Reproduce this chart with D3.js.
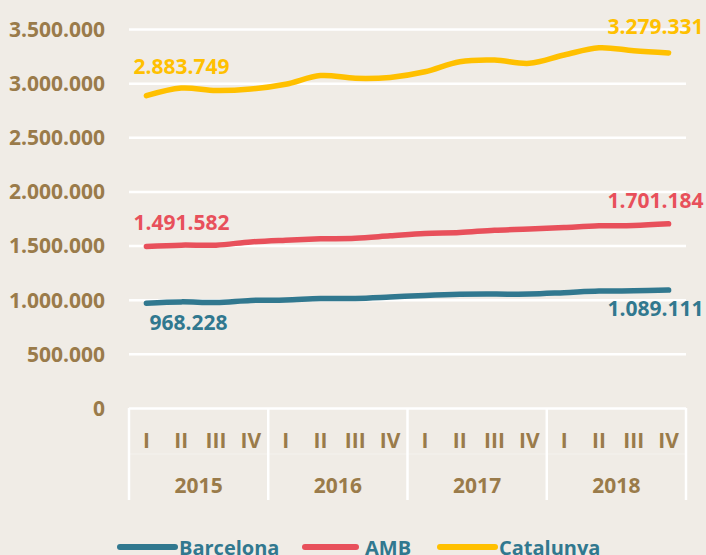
<!DOCTYPE html>
<html>
<head>
<meta charset="utf-8">
<script src="https://cdn.jsdelivr.net/npm/d3@7"></script>
<style>
  body { margin: 0; background: #F0ECE6; }
  svg { display: block; }
  text { font-family: "Open Sans", sans-serif; font-weight: bold; }
</style>
</head>
<body>
<svg id="chart" width="706" height="555"></svg>
<script>
// quarters and years on the x axis
var quarters = ["I", "II", "III", "IV"];
var years = ["2015", "2016", "2017", "2018"];

// population series, one value per quarter (2015 I ... 2018 IV)
var barcelona = [968228, 980000, 974000, 993000, 998000, 1011000, 1012000, 1025000,
                 1040000, 1050000, 1052000, 1052000, 1065000, 1080000, 1082000, 1089111];
var amb = [1491582, 1504000, 1504000, 1534000, 1550000, 1562000, 1568000, 1590000,
           1612000, 1621000, 1642000, 1652000, 1667000, 1682000, 1686000, 1701184];
var catalunya = [2883749, 2955000, 2932000, 2946000, 2990000, 3070000, 3045000, 3053000,
                 3105000, 3198000, 3213000, 3183000, 3260000, 3327000, 3300000, 3279331];

var yTicks = [0, 500000, 1000000, 1500000, 2000000, 2500000, 3000000, 3500000];

var seriesNames = ["Barcelona", "AMB", "Catalunya"];
var seriesColors = ["#31788F", "#E8505B", "#FFC000"];

var svg = d3.select("#chart");
var plotLeft = 129, plotRight = 686, plotTop = 29, plotBottom = 408;

var fmt = d3.formatLocale({decimal: ",", thousands: ".", grouping: [3], currency: ["", ""]}).format(",");

// one slot per quarter
var slots = [];
years.forEach(function(yr){ quarters.forEach(function(q){ slots.push(yr + "-" + q); }); });

var x = d3.scaleBand().domain(slots).range([plotLeft, plotRight]);
var xYear = d3.scaleBand().domain(years).range([plotLeft, plotRight]);
var y = d3.scaleLinear().domain([0, 3500000]).range([plotBottom, plotTop]);

var axisColor = "#9A7B4A";

// gridlines
svg.append("g")
    .attr("transform", "translate(" + plotLeft + ",0)")
    .call(d3.axisLeft(y).tickValues(yTicks).tickSize(-(plotRight - plotLeft)).tickFormat(""))
    .call(function(g){ g.select(".domain").remove(); })
    .selectAll("line").attr("stroke", "#fff").attr("stroke-width", 2.5);

// y labels
svg.append("g")
    .attr("transform", "translate(" + plotLeft + ",0)")
    .call(d3.axisLeft(y).tickValues(yTicks).tickSize(0).tickPadding(24).tickFormat(fmt))
    .call(function(g){ g.select(".domain").remove(); })
    .selectAll("text")
    .attr("fill", axisColor)
    .style("font-size", "21px")
    .attr("dy", "0.35em");

// x axis: separators between years
var sepX = years.map(function(yr){ return xYear(yr); }).concat([plotRight]);
svg.selectAll(".sep").data(sepX).enter().append("line")
    .attr("x1", function(d){ return d; }).attr("x2", function(d){ return d; })
    .attr("y1", plotBottom).attr("y2", 500)
    .attr("stroke", "#fff").attr("stroke-width", 2.5);

svg.append("line")
    .attr("x1", plotLeft).attr("x2", plotRight).attr("y1", 454).attr("y2", 454)
    .attr("stroke", "#fff").attr("stroke-opacity", 0.35).attr("stroke-width", 1);

svg.append("g").selectAll("text").data(slots).enter().append("text")
    .attr("x", function(d){ return x(d) + x.bandwidth() / 2; })
    .attr("y", 448)
    .attr("text-anchor", "middle")
    .attr("fill", axisColor)
    .style("font-size", "21px")
    .text(function(d){ return d.split("-")[1]; });

svg.append("g").selectAll("text").data(years).enter().append("text")
    .attr("x", function(d){ return xYear(d) + xYear.bandwidth() / 2; })
    .attr("y", 493)
    .attr("text-anchor", "middle")
    .attr("fill", axisColor)
    .style("font-size", "21px")
    .text(function(d){ return d; });

// lines
var line = d3.line()
    .x(function(d, i){ return x(slots[i]) + x.bandwidth() / 2; })
    .y(function(d){ return y(d); })
    .curve(d3.curveCatmullRom.alpha(0.5));

var allSeries = [barcelona, amb, catalunya];
allSeries.forEach(function(s, i){
    svg.append("path")
        .attr("d", line(s))
        .attr("fill", "none")
        .attr("stroke", seriesColors[i])
        .attr("stroke-width", 5.5)
        .attr("stroke-linecap", "round");
});

// first/last value labels
var labels = [
    {s: 2, i: 0, dx: -13, dy: -22, anchor: "start"},
    {s: 2, i: 15, dx: 35, dy: -19, anchor: "end"},
    {s: 1, i: 0, dx: -13, dy: -16, anchor: "start"},
    {s: 1, i: 15, dx: 35, dy: -16, anchor: "end"},
    {s: 0, i: 0, dx: 3, dy: 27, anchor: "start"},
    {s: 0, i: 15, dx: 35, dy: 26, anchor: "end"}
];
svg.append("g").selectAll("text").data(labels).enter().append("text")
    .attr("x", function(d){ return x(slots[d.i]) + x.bandwidth() / 2 + d.dx; })
    .attr("y", function(d){ return y(allSeries[d.s][d.i]) + d.dy; })
    .attr("text-anchor", function(d){ return d.anchor; })
    .attr("fill", function(d){ return seriesColors[d.s]; })
    .style("font-size", "21px")
    .text(function(d){ return fmt(allSeries[d.s][d.i]); });

// legend
var legendX = [120, 305, 440];
var leg = svg.append("g").selectAll("g").data(seriesNames).enter().append("g")
    .attr("transform", function(d, i){ return "translate(" + legendX[i] + ",547)"; });
leg.append("line")
    .attr("x1", 0).attr("x2", function(d, i){ return i == 1 ? 51 : 55; })
    .attr("stroke", function(d, i){ return seriesColors[i]; })
    .attr("stroke-width", 6).attr("stroke-linecap", "round");
leg.append("text")
    .attr("x", function(d, i){ return i == 1 ? 60 : 59; })
    .attr("y", 8)
    .attr("fill", "#31788F")
    .style("font-size", "20px")
    .text(function(d){ return d; });
</script>
</body>
</html>
